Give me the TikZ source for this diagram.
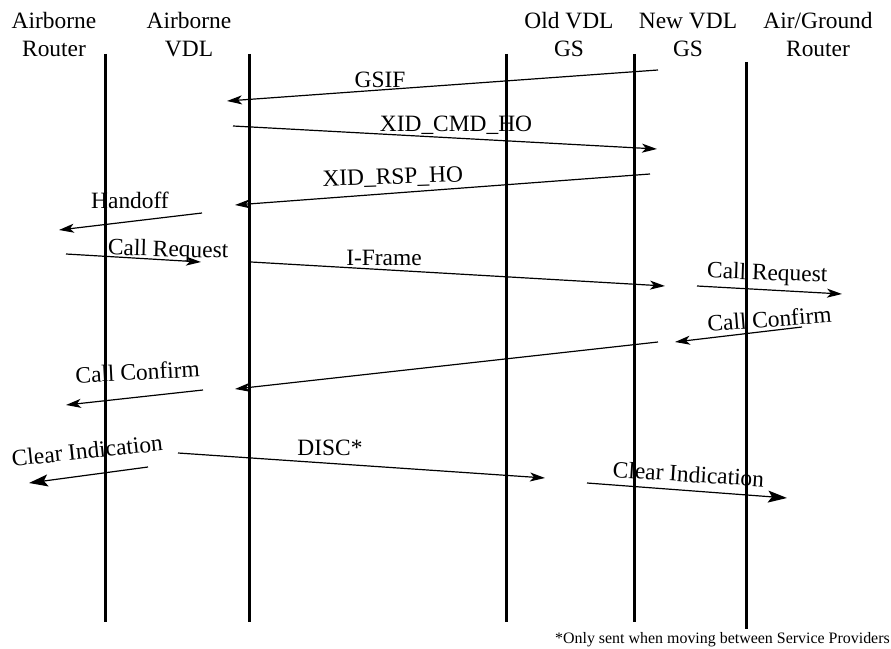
\documentclass[tikz,border=0pt]{standalone}
\usepackage{fontspec}
\setmainfont{Liberation Serif}
\usetikzlibrary{arrows.meta}
\begin{document}
\begin{tikzpicture}[x=1bp,y=-1bp,
  hdr/.style={anchor=north, inner sep=0pt, align=center, font=\fontsize{23.5}{28.5}\selectfont},
  life/.style={line width=3bp},
  msg/.style={line width=1.2bp, -{Stealth[length=15bp,width=9bp,inset=4bp]}},
  bigmsg/.style={line width=1.2bp, -{Stealth[length=19bp,width=12bp,inset=4bp]}},
  lbl/.style={anchor=base, inner sep=0pt, font=\fontsize{23.5}{28}\selectfont},
  note/.style={anchor=base east, inner sep=0pt, font=\fontsize{16}{19}\selectfont},
]
\useasboundingbox (0,0) rectangle (891,649);

% headers (strut gives every header the same top)
\node[hdr] (hAR)  at (54,8.2)  {\strut Airborne\\Router};
\node[hdr] (hAV)  at (189,8.2) {\strut Airborne\\VDL};
\node[hdr] (hOld) at (569,8.2) {\strut Old VDL\\GS};
\node[hdr] (hNew) at (688,8.2) {\strut New VDL\\GS};
\node[hdr] (hAG)  at (818,8.2) {\strut Air/Ground\\Router};

% lifelines
\coordinate (lARt) at (105,54);  \coordinate (lARb) at (105,622);
\coordinate (lAVt) at (249,54);  \coordinate (lAVb) at (249,622);
\coordinate (lOt)  at (506,54);  \coordinate (lOb)  at (506,622);
\coordinate (lNt)  at (634,54);  \coordinate (lNb)  at (634,622);
\coordinate (lGt)  at (746,62);  \coordinate (lGb)  at (746,629);
\draw[life] (lARt) -- (lARb);
\draw[life] (lAVt) -- (lAVb);
\draw[life] (lOt) -- (lOb);
\draw[life] (lNt) -- (lNb);
\draw[life] (lGt) -- (lGb);

% messages
\coordinate (m1s) at (658,70);   \coordinate (m1e) at (227,101);
\coordinate (m2s) at (233,126);  \coordinate (m2e) at (657,149);
\coordinate (m3s) at (650,174);  \coordinate (m3e) at (235,205);
\coordinate (m4s) at (202,213);  \coordinate (m4e) at (59,230);
\coordinate (m5s) at (66,254);   \coordinate (m5e) at (201,262);
\coordinate (m6s) at (251,262);  \coordinate (m6e) at (665,286);
\coordinate (m7s) at (697,286);  \coordinate (m7e) at (842,294);
\coordinate (m8s) at (802,327);  \coordinate (m8e) at (675,342);
\coordinate (m9s) at (658,342);  \coordinate (m9e) at (235,389);
\coordinate (m10s) at (203,390); \coordinate (m10e) at (66,405);
\coordinate (m11s) at (148,467); \coordinate (m11e) at (29,483);
\coordinate (m12s) at (178,453); \coordinate (m12e) at (545,478);
\coordinate (m13s) at (587,483); \coordinate (m13e) at (787,498);

\draw[msg] (m1s) -- (m1e);
\draw[msg] (m2s) -- (m2e);
\draw[msg] (m3s) -- (m3e);
\draw[msg] (m4s) -- (m4e);
\draw[msg] (m5s) -- (m5e);
\draw[msg] (m6s) -- (m6e);
\draw[msg] (m7s) -- (m7e);
\draw[msg] (m8s) -- (m8e);
\draw[msg] (m9s) -- (m9e);
\draw[msg] (m10s) -- (m10e);
\draw[bigmsg] (m11s) -- (m11e);
\draw[msg] (m12s) -- (m12e);
\draw[bigmsg] (m13s) -- (m13e);

% labels
\node[lbl] (t1)  at (380,88)   {GSIF};
\node[lbl] (t2)  at (456,132)  {XID\_CMD\_HO};
\node[lbl, rotate=2] (t3)  at (393,184)  {XID\_RSP\_HO};
\node[lbl] (t4)  at (130,208)  {Handoff};
\node[lbl, rotate=-1.6] (t5)  at (168,256.5) {Call Request};
\node[lbl] (t6)  at (384,265)  {I-Frame};
\node[lbl, rotate=-2] (t7)  at (767,280)  {Call Request};
\node[lbl, rotate=4.5] (t8)  at (770,327)  {Call Confirm};
\node[lbl, rotate=3] (t10) at (138,380)  {Call Confirm};
\node[lbl, rotate=6] (t11) at (88,458.5) {Clear Indication};
\node[lbl] (t12) at (330,455)  {DISC*};
\node[lbl, rotate=-3.7] (t13) at (688,482) {Clear Indication};

\node[note] (fn) at (890,643) {*Only sent when moving between Service Providers};
\end{tikzpicture}
\end{document}
